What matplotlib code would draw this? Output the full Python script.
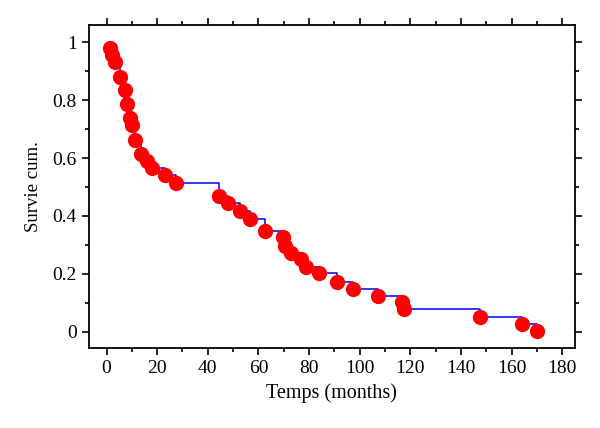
import numpy as np
import matplotlib
matplotlib.use("Agg")
import matplotlib.pyplot as plt
from matplotlib.ticker import MultipleLocator

# event times (months) and cumulative survival
times = [1.3, 2.2, 3.5, 5.4, 7.4, 8.1, 9.2, 10.1, 11.4, 13.6, 16.0, 18.0,
         23.3, 27.3, 44.6, 48.1, 52.7, 56.6, 62.8, 69.8, 70.5, 72.7, 76.7,
         78.7, 84.0, 90.9, 97.2, 107.4, 116.8, 117.4, 147.5, 164.0, 170.0]
surv = [0.981, 0.955, 0.930, 0.881, 0.835, 0.785, 0.737, 0.713, 0.662,
        0.614, 0.591, 0.564, 0.541, 0.515, 0.470, 0.446, 0.417, 0.391,
        0.348, 0.328, 0.295, 0.271, 0.250, 0.225, 0.202, 0.173, 0.148,
        0.124, 0.104, 0.078, 0.050, 0.027, 0.004]

xticks = [0, 20, 40, 60, 80, 100, 120, 140, 160, 180]
yticks = [0, 0.2, 0.4, 0.6, 0.8, 1]
ylabels = ["0", "0.2", "0.4", "0.6", "0.8", "1"]

plt.rcParams['font.family'] = ['Liberation Serif', 'DejaVu Serif']

fig = plt.figure(figsize=(6, 4.28), dpi=100)
ax = fig.add_axes([0.148, 0.187, 0.81, 0.755])

ax.step(times, surv, where='post', color='#0000ff', lw=1.1, zorder=2)
ax.plot(times, surv, 'o', color='#ff0000', ms=11, mec='none', zorder=3)

ax.set_xlim(-7, 185)
ax.set_ylim(-0.056, 1.06)
ax.set_xticks(xticks)
ax.set_yticks(yticks)
ax.set_yticklabels(ylabels)
ax.xaxis.set_minor_locator(MultipleLocator(10))
ax.yaxis.set_minor_locator(MultipleLocator(0.1))

ax.tick_params(which='both', direction='out', top=True, right=True,
               labeltop=False, labelright=False, labelsize=14, width=1.2)
ax.tick_params(which='major', length=5)
ax.tick_params(which='minor', length=3)
for s in ax.spines.values():
    s.set_linewidth(1.3)

ax.set_xlabel("Temps (months)", fontsize=14.5, labelpad=5)
ax.set_ylabel("Survie cum.", fontsize=13.5, labelpad=8)

fig.savefig("out.png", dpi=100)
